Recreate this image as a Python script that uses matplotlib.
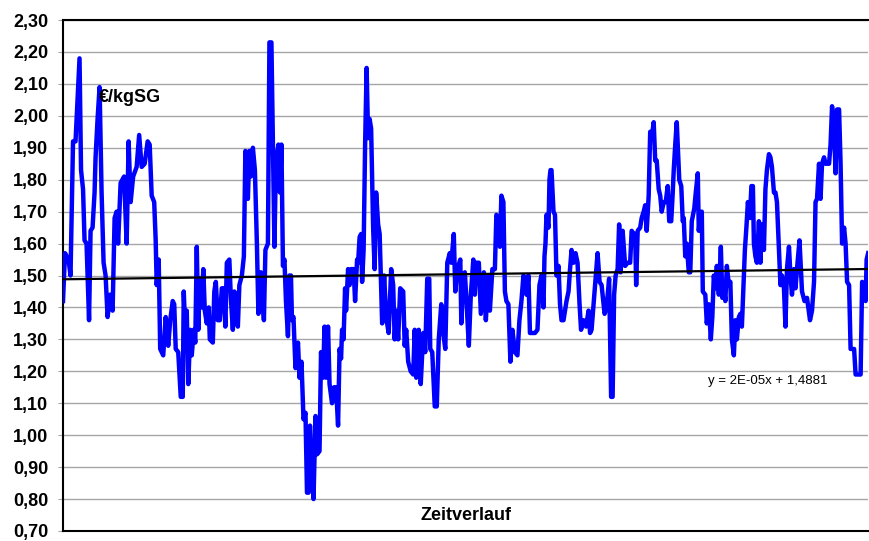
import numpy as np
import matplotlib
matplotlib.use("Agg")
import matplotlib.pyplot as plt
from matplotlib.ticker import FuncFormatter, MultipleLocator

plt.rcParams['font.family'] = ['Liberation Sans', 'DejaVu Sans']

# Zeitverlauf (Wochenindex) und Preis in EUR/kg Schlachtgewicht
woche = [
    2, 6, 13, 17, 22, 27, 35, 38, 42, 45, 49, 54, 57, 61, 65, 67, 71, 75, 79, 83,
    87, 91, 96, 101, 105, 109, 112, 117, 124, 129, 133, 137, 142, 149, 154, 159, 165, 171, 175, 179,
    184, 187, 189, 193, 196, 202, 207, 212, 216, 221, 224, 227, 232, 237, 241, 243, 246, 249, 252, 256,
    259, 263, 266, 269, 272, 275, 279, 282, 285, 289, 293, 295, 301, 304, 307, 311, 315, 319, 323, 326,
    329, 334, 337, 341, 344, 347, 351, 354, 359, 363, 366, 371, 374, 377, 381, 385, 389, 392, 397, 403,
    406, 411, 414, 418, 424, 427, 432, 435, 438, 441, 444, 447, 451, 454, 457, 459, 462, 466, 471, 474,
    478, 482, 486, 489, 492, 495, 499, 502, 506, 509, 514, 517, 521, 524, 527, 531, 534, 539, 543, 547,
    551, 554, 557, 559, 562, 565, 567, 571, 574, 577, 582, 585, 589, 591, 594, 597, 599, 602, 605, 608,
    611, 614, 617, 621, 624, 627, 631, 634, 639, 643, 647, 652, 657, 661, 664, 667, 671, 675, 681, 684,
    687, 691, 696, 701, 704, 707, 712, 716, 721, 725, 729, 733, 735, 739, 744, 748, 752, 757, 761, 765,
    769, 774, 777, 782, 785, 789, 795, 797, 801, 804, 807, 812, 816, 821, 824, 827, 832, 836, 842, 846,
    851, 854, 859, 864, 867, 871, 874, 877, 881, 884, 887, 891, 895, 899, 904, 909, 913, 917, 921, 925,
    927, 931, 934, 939, 944, 949, 953, 957, 961, 963, 965, 967, 971, 973, 975, 977, 981, 984, 987, 991,
    994, 997, 1001, 1004, 1007, 1011, 1014, 1017, 1021, 1025, 1029, 1033, 1036, 1041, 1046, 1051, 1054, 1057, 1061, 1064,
    1069, 1073, 1077, 1083, 1087, 1092, 1096, 1099, 1102, 1105, 1109, 1112, 1115, 1119, 1124, 1129, 1134, 1137, 1141, 1144,
    1146, 1149, 1154, 1157, 1161, 1164, 1167, 1171, 1174, 1177, 1181, 1184, 1187, 1191, 1194, 1197, 1201, 1205, 1209, 1212,
    1216, 1219, 1221, 1224, 1227, 1229, 1232, 1236, 1239, 1241, 1244, 1247, 1251, 1254, 1257, 1262, 1265, 1269, 1271, 1274,
    1277, 1279, 1284, 1287, 1291, 1295, 1298, 1301, 1304, 1307, 1311, 1315, 1318, 1321, 1324, 1327, 1331, 1334, 1337, 1341,
    1344, 1347, 1351, 1354, 1357, 1359, 1363, 1366, 1369, 1373, 1376, 1379, 1381, 1384, 1387, 1391, 1394, 1397, 1401, 1404,
    1407, 1411, 1414, 1417, 1421, 1424, 1427, 1431, 1434, 1437, 1441, 1444, 1447, 1451, 1454, 1457, 1461, 1464, 1467, 1472,
    1477, 1482, 1487, 1493, 1497, 1501, 1504, 1507, 1511, 1514, 1517, 1521, 1524, 1531, 1534, 1537, 1541, 1544, 1547, 1551,
    1554, 1557, 1561, 1564, 1567, 1571, 1574, 1581, 1584, 1594, 1597, 1602, 1604, 1606, 1609,
]
preis = [
    1.42, 1.57, 1.55, 1.50, 1.92, 1.92, 2.18, 1.83, 1.77, 1.61, 1.60, 1.36, 1.64, 1.65, 1.76, 1.87, 1.99, 2.09, 1.76, 1.54,
    1.50, 1.37, 1.44, 1.39, 1.68, 1.70, 1.60, 1.79, 1.81, 1.60, 1.92, 1.73, 1.81, 1.84, 1.94, 1.84, 1.85, 1.92, 1.91, 1.75,
    1.73, 1.61, 1.47, 1.55, 1.27, 1.25, 1.37, 1.28, 1.36, 1.42, 1.41, 1.27, 1.26, 1.12, 1.12, 1.45, 1.33, 1.39, 1.16, 1.33,
    1.25, 1.33, 1.29, 1.59, 1.33, 1.49, 1.40, 1.52, 1.39, 1.35, 1.40, 1.30, 1.29, 1.45, 1.48, 1.36, 1.36, 1.46, 1.46, 1.34,
    1.54, 1.55, 1.43, 1.33, 1.45, 1.42, 1.34, 1.47, 1.50, 1.56, 1.89, 1.74, 1.89, 1.81, 1.90, 1.83, 1.60, 1.38, 1.51, 1.36,
    1.58, 1.60, 2.23, 2.23, 1.59, 1.86, 1.91, 1.76, 1.91, 1.53, 1.55, 1.42, 1.31, 1.50, 1.50, 1.36, 1.37, 1.21, 1.29, 1.18,
    1.23, 1.05, 1.07, 0.82, 0.82, 1.03, 0.87, 0.80, 1.06, 0.94, 0.95, 1.26, 1.18, 1.34, 1.18, 1.34, 1.16, 1.10, 1.15, 1.15,
    1.03, 1.27, 1.24, 1.33, 1.30, 1.46, 1.39, 1.52, 1.47, 1.52, 1.52, 1.42, 1.55, 1.54, 1.62, 1.63, 1.48, 1.58, 1.91, 2.15,
    1.93, 1.99, 1.96, 1.65, 1.52, 1.76, 1.66, 1.63, 1.35, 1.50, 1.37, 1.32, 1.52, 1.47, 1.30, 1.39, 1.30, 1.46, 1.45, 1.28,
    1.33, 1.23, 1.20, 1.19, 1.33, 1.18, 1.33, 1.16, 1.32, 1.26, 1.49, 1.49, 1.27, 1.26, 1.09, 1.09, 1.30, 1.41, 1.32, 1.27,
    1.54, 1.57, 1.54, 1.63, 1.45, 1.52, 1.55, 1.35, 1.50, 1.51, 1.43, 1.28, 1.44, 1.55, 1.44, 1.54, 1.54, 1.38, 1.51, 1.36,
    1.50, 1.39, 1.52, 1.52, 1.69, 1.68, 1.59, 1.75, 1.73, 1.45, 1.42, 1.41, 1.23, 1.33, 1.26, 1.25, 1.36, 1.42, 1.50, 1.48,
    1.44, 1.50, 1.32, 1.32, 1.32, 1.33, 1.47, 1.50, 1.40, 1.56, 1.60, 1.69, 1.65, 1.80, 1.83, 1.83, 1.70, 1.69, 1.50, 1.53,
    1.41, 1.36, 1.36, 1.39, 1.42, 1.45, 1.52, 1.58, 1.54, 1.57, 1.54, 1.41, 1.33, 1.36, 1.34, 1.39, 1.32, 1.33, 1.41, 1.47,
    1.57, 1.48, 1.47, 1.38, 1.40, 1.49, 1.12, 1.12, 1.44, 1.50, 1.52, 1.66, 1.51, 1.64, 1.53, 1.54, 1.54, 1.64, 1.63, 1.63,
    1.47, 1.64, 1.65, 1.68, 1.70, 1.72, 1.64, 1.75, 1.95, 1.93, 1.98, 1.86, 1.86, 1.77, 1.75, 1.70, 1.73, 1.73, 1.78, 1.67,
    1.67, 1.76, 1.83, 1.91, 1.98, 1.91, 1.80, 1.78, 1.67, 1.68, 1.56, 1.60, 1.51, 1.51, 1.67, 1.71, 1.76, 1.82, 1.64, 1.69,
    1.70, 1.45, 1.44, 1.35, 1.41, 1.30, 1.37, 1.50, 1.46, 1.53, 1.44, 1.59, 1.43, 1.47, 1.42, 1.53, 1.47, 1.48, 1.30, 1.25,
    1.36, 1.30, 1.37, 1.38, 1.34, 1.42, 1.58, 1.65, 1.73, 1.68, 1.78, 1.78, 1.60, 1.56, 1.54, 1.67, 1.54, 1.66, 1.58, 1.77,
    1.83, 1.88, 1.87, 1.84, 1.76, 1.76, 1.73, 1.58, 1.47, 1.50, 1.46, 1.34, 1.52, 1.59, 1.50, 1.44, 1.52, 1.46, 1.52, 1.61,
    1.45, 1.42, 1.43, 1.36, 1.39, 1.48, 1.73, 1.74, 1.85, 1.74, 1.85, 1.87, 1.85, 1.85, 1.91, 2.03, 1.96, 1.82, 2.02, 2.02,
    1.85, 1.60, 1.65, 1.60, 1.48, 1.47, 1.27, 1.27, 1.19, 1.19, 1.48, 1.47, 1.42, 1.55, 1.57,
]

# lineare Trendlinie laut Beschriftung
steigung = 2e-05
achsenabschnitt = 1.4881
trend_text = "y = 2E-05x + 1,4881"

fig = plt.figure(figsize=(8.69, 5.41), dpi=100)
ax = fig.add_axes([0.0725, 0.0185, 0.9265, 0.9445])

ax.plot(woche, preis, color='#0000FF', lw=3.2, solid_joinstyle='round', zorder=3)
t = np.array([woche[0], woche[-1]])
ax.plot(t, steigung * t + achsenabschnitt, color='black', lw=1.6, zorder=4)

ax.set_xlim(woche[0], woche[-1])
ax.set_ylim(0.70, 2.30)
ax.yaxis.set_major_locator(MultipleLocator(0.1))
ax.yaxis.set_major_formatter(FuncFormatter(lambda v, p: f"{v:.2f}".replace('.', ',')))
ax.grid(axis='y', color='#a6a6a6', lw=1.0)
ax.set_axisbelow(True)
ax.set_xticks([])
ax.tick_params(axis='y', length=3.6, color='#a6a6a6', pad=7, labelsize=13)
for lab in ax.get_yticklabels():
    lab.set_fontweight('bold')

for side in ['left', 'bottom', 'top']:
    ax.spines[side].set_color('black')
    ax.spines[side].set_linewidth(1.5)
ax.spines['right'].set_visible(False)

ax.text(0.044, 0.848, "€/kgSG", transform=ax.transAxes, fontsize=13,
        fontweight='bold', va='center', ha='left')
ax.text(0.5, 0.03, "Zeitverlauf", transform=ax.transAxes, fontsize=13,
        fontweight='bold', va='center', ha='center')
ax.text(1290, 1.17, trend_text, fontsize=9.5, va='center', ha='left')

fig.savefig("out.png", dpi=100)
